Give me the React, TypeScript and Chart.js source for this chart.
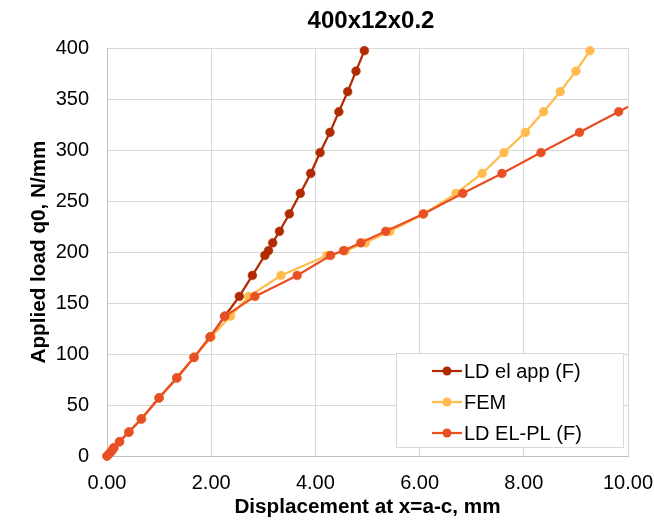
import React, { useEffect, useRef } from "react";
import { Chart, registerables } from "chart.js";

Chart.register(...registerables);

const chartTitle = "400x12x0.2";
const xAxisTitle = "Displacement at x=a-c, mm";
const yAxisTitle = "Applied load q0, N/mm";

// Applied load steps (N/mm)
const loads = [0, 2, 5, 8, 14, 23.5, 36.3, 57, 76.5, 96.7, 116.7, 137, 156.5, 177, 196.6, 201.3, 209, 220.3, 237.3, 257.5, 277, 297.5, 317.3, 337.5, 357.2, 377.4, 397.4];

// Displacement per series (mm)
const elAppX = [0, 0.04, 0.09, 0.13, 0.24, 0.42, 0.66, 1.0, 1.34, 1.67, 1.98, 2.26, 2.54, 2.79, 3.03, 3.1, 3.18, 3.31, 3.5, 3.71, 3.91, 4.09, 4.28, 4.45, 4.62, 4.78, 4.94];
const femX = [0, 0.04, 0.09, 0.13, 0.24, 0.42, 0.66, 1.0, 1.34, 1.67, 2.0, 2.37, 2.72, 3.34, 4.22, 4.58, 4.96, 5.43, 6.08, 6.7, 7.2, 7.62, 8.03, 8.38, 8.7, 9.0, 9.27];
const elPlX = [0, 0.04, 0.09, 0.13, 0.24, 0.42, 0.66, 1.0, 1.34, 1.67, 1.98, 2.26, 2.84, 3.65, 4.29, 4.54, 4.87, 5.35, 6.07, 6.83, 7.58, 8.33, 9.07, 9.82, 10.55];

const seriesNames = ["LD el app (F)", "FEM", "LD EL-PL (F)"];
const seriesColors = ["#b02a02", "#ffbb4d", "#e84f24"];
const xTicks = [0, 2, 4, 6, 8, 10];
const yTicks = [0, 50, 100, 150, 200, 250, 300, 350, 400];

const FONT = "'Liberation Sans', Arial, sans-serif";

function pts(xs: number[]) {
  return xs.map((x, i) => ({ x, y: loads[i] }));
}

const overlayPlugin = {
  id: "overlay",
  afterDraw(chart: any) {
    const ctx = chart.ctx;
    ctx.save();
    // title
    ctx.fillStyle = "#000";
    ctx.font = `bold 24px ${FONT}`;
    ctx.textAlign = "center";
    ctx.textBaseline = "middle";
    ctx.fillText(chartTitle, 371, 21);
    // legend box
    const lx = 396, ly = 353, lw = 227, lh = 94;
    ctx.fillStyle = "#fff";
    ctx.fillRect(lx, ly, lw, lh);
    ctx.strokeStyle = "#d9d9d9";
    ctx.lineWidth = 1;
    ctx.strokeRect(lx + 0.5, ly + 0.5, lw, lh);
    ctx.font = `20px ${FONT}`;
    ctx.textAlign = "left";
    const rows = [371, 402, 433];
    seriesNames.forEach((name, i) => {
      const y = rows[i];
      ctx.strokeStyle = seriesColors[i];
      ctx.lineWidth = 2.25;
      ctx.beginPath();
      ctx.moveTo(432, y);
      ctx.lineTo(462, y);
      ctx.stroke();
      ctx.fillStyle = seriesColors[i];
      ctx.beginPath();
      ctx.arc(447, y, 4.5, 0, Math.PI * 2);
      ctx.fill();
      ctx.fillStyle = "#000";
      ctx.fillText(name, 464, y + 1);
    });
    ctx.restore();
  },
};

export default function App() {
  const ref = useRef<HTMLCanvasElement | null>(null);
  useEffect(() => {
    if (!ref.current) return;
    const mk = (i: number, xs: number[], order: number) => ({
      label: seriesNames[i],
      data: pts(xs),
      borderColor: seriesColors[i],
      backgroundColor: seriesColors[i],
      pointBackgroundColor: seriesColors[i],
      pointBorderColor: seriesColors[i],
      pointRadius: 4.4,
      pointBorderWidth: 0.5,
      borderWidth: 2.25,
      tension: 0,
      showLine: true,
      clip: { left: 8, top: 8, right: 0, bottom: 8 },
      order,
    });
    const chart = new Chart(ref.current, {
      type: "scatter",
      data: {
        datasets: [mk(0, elAppX, 2), mk(1, femX, 1), mk(2, elPlX, 0)],
      },
      options: {
        responsive: false,
        animation: false,
        devicePixelRatio: 1,
        layout: { padding: { top: 48, right: 26, left: 0, bottom: 0 } },
        plugins: {
          legend: { display: false },
          title: { display: false },
          tooltip: { enabled: false },
        },
        scales: {
          x: {
            type: "linear",
            min: 0,
            max: 10,
            afterFit: (s: any) => {
              s.height = 65;
              s.paddingLeft = 0;
              s.paddingRight = 0;
            },
            afterBuildTicks: (s: any) => {
              s.ticks = xTicks.map((v) => ({ value: v }));
            },
            ticks: {
              padding: 15,
              color: "#000",
              font: { family: FONT, size: 20 },
              callback: (v: any) => Number(v).toFixed(2),
              maxRotation: 0,
            },
            grid: { color: "#d9d9d9", lineWidth: 1, drawTicks: false },
            border: { color: "#bfbfbf", width: 1 },
            title: {
              display: true,
              text: xAxisTitle,
              color: "#000",
              font: { family: FONT, size: 20.7, weight: "bold" },
              padding: { top: 0, bottom: 1 },
            },
          },
          y: {
            type: "linear",
            min: 0,
            max: 400,
            afterFit: (s: any) => {
              s.width = 107;
              s.paddingTop = 0;
              s.paddingBottom = 0;
            },
            afterBuildTicks: (s: any) => {
              s.ticks = yTicks.map((v) => ({ value: v }));
            },
            ticks: {
              padding: 18,
              color: "#000",
              font: { family: FONT, size: 20 },
            },
            grid: { color: "#d9d9d9", lineWidth: 1, drawTicks: false },
            border: { color: "#bfbfbf", width: 1 },
            title: {
              display: true,
              text: yAxisTitle,
              color: "#000",
              font: { family: FONT, size: 20.7, weight: "bold" },
              padding: { top: 27, bottom: 0 },
            },
          },
        },
      },
      plugins: [overlayPlugin],
    } as any);
    return () => chart.destroy();
  }, []);
  return (
    <div style={{ position: "fixed", left: 0, top: 0, width: 654, height: 521, background: "#fff" }}>
      <canvas ref={ref} width={654} height={521} style={{ display: "block" }} />
    </div>
  );
}
